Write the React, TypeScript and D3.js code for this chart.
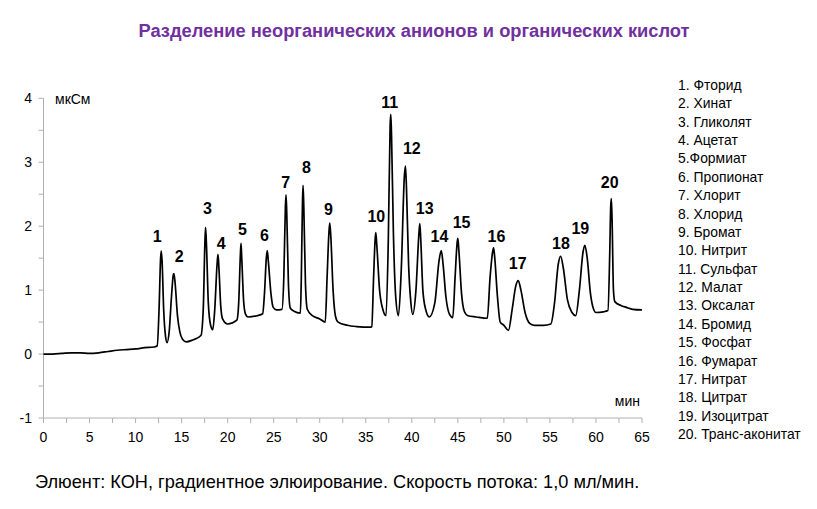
import { useMemo } from "react";
import * as d3 from "d3";

// chromatogram trace: [time (min), signal (мкСм)]
const trace: [number, number][] = [
  [0, 0], [1, 0.0], [2, 0.01], [3, 0.02], [4, 0.02], [5, 0.01], [6, 0.02], [7, 0.04],
  [8, 0.06], [9, 0.07], [10, 0.08], [11, 0.1], [12, 0.11], [12.35, 0.13],
  // 1
  [12.55, 0.7], [12.72, 1.5], [12.79, 1.61], [12.88, 1.45], [13.05, 0.7], [13.25, 0.28], [13.42, 0.18],
  // 2
  [13.65, 0.35], [13.9, 0.9], [14.1, 1.24], [14.17, 1.26], [14.3, 1.1], [14.55, 0.6], [14.8, 0.35],
  [15.1, 0.23], [15.5, 0.19], [16.2, 0.22], [17.1, 0.29],
  // 3
  [17.35, 0.7], [17.52, 1.7], [17.6, 1.98], [17.7, 1.7], [17.9, 0.8], [18.15, 0.45], [18.38, 0.38],
  // 4
  [18.6, 0.7], [18.85, 1.4], [18.95, 1.56], [19.05, 1.35], [19.25, 0.75], [19.45, 0.55], [20.0, 0.47], [21.0, 0.53],
  // 5
  [21.2, 0.8], [21.38, 1.55], [21.45, 1.73], [21.53, 1.5], [21.75, 0.8], [21.95, 0.62], [22.2, 0.58],
  [23.2, 0.6], [23.8, 0.63],
  // 6
  [24.0, 0.95], [24.2, 1.5], [24.3, 1.62], [24.42, 1.45], [24.7, 0.95], [24.95, 0.73], [25.3, 0.69], [25.9, 0.7],
  // 7
  [26.1, 1.2], [26.27, 2.3], [26.34, 2.49], [26.42, 2.2], [26.6, 1.1], [26.8, 0.72], [27.2, 0.67], [27.9, 0.64],
  // 8
  [28.0, 1.2], [28.13, 2.4], [28.19, 2.64], [28.27, 2.3], [28.45, 1.1], [28.65, 0.7], [29.2, 0.6],
  [30.0, 0.55], [30.6, 0.5],
  // 9
  [30.8, 1.2], [31.0, 1.9], [31.09, 2.05], [31.2, 1.85], [31.45, 1.0], [31.7, 0.6], [32.0, 0.5],
  [33, 0.45], [34, 0.43], [35.5, 0.42], [35.65, 0.43],
  // 10
  [35.85, 1.2], [36.02, 1.8], [36.09, 1.9], [36.2, 1.7], [36.5, 1.0], [36.85, 0.7], [37.2, 0.6],
  // 11
  [37.45, 1.8], [37.65, 3.6], [37.72, 3.75], [37.8, 3.4], [38.0, 1.9], [38.25, 0.9], [38.55, 0.6],
  // 12
  [38.85, 1.3], [39.2, 2.8], [39.31, 2.94], [39.42, 2.6], [39.65, 1.4], [39.9, 0.8], [40.1, 0.62],
  // 13
  [40.45, 1.0], [40.78, 1.9], [40.87, 2.04], [40.97, 1.8], [41.2, 1.0], [41.5, 0.7], [41.9, 0.58],
  // 14
  [42.5, 0.8], [42.95, 1.45], [43.2, 1.62], [43.4, 1.4], [43.7, 0.9], [44.1, 0.62], [44.45, 0.57],
  // 15
  [44.7, 1.2], [44.93, 1.75], [45.0, 1.81], [45.12, 1.6], [45.4, 0.95], [45.7, 0.67], [46.1, 0.6],
  [47, 0.58], [48.2, 0.56],
  // 16
  [48.5, 1.2], [48.78, 1.6], [48.88, 1.66], [48.98, 1.55], [49.3, 0.9], [49.6, 0.5], [50.0, 0.45], [50.5, 0.37],
  // 17
  [50.9, 0.7], [51.3, 1.07], [51.56, 1.15], [51.85, 1.0], [52.3, 0.65], [52.8, 0.48], [53.3, 0.45],
  [54.3, 0.45], [55.1, 0.47],
  // 18
  [55.5, 0.8], [55.9, 1.4], [56.16, 1.53], [56.45, 1.35], [56.9, 0.85], [57.4, 0.65], [57.8, 0.6],
  // 19
  [58.2, 1.0], [58.6, 1.6], [58.8, 1.7], [59.05, 1.5], [59.4, 0.95], [59.7, 0.72], [60.0, 0.65],
  [60.8, 0.66], [61.3, 0.68],
  // 20
  [61.5, 1.6], [61.6, 2.3], [61.67, 2.43], [61.75, 2.1], [61.9, 1.0], [62.05, 0.82], [62.7, 0.76],
  [63.3, 0.73], [64.0, 0.7], [65, 0.69],
];

// peak number labels (time, signal where the number sits)
const peakNums = ["1", "2", "3", "4", "5", "6", "7", "8", "9", "10", "11", "12", "13", "14", "15", "16", "17", "18", "19", "20"];
const peakLabelT = [12.35, 14.75, 17.8, 19.3, 21.6, 24.0, 26.3, 28.55, 30.95, 36.15, 37.6, 40.0, 41.4, 43.0, 45.4, 49.2, 51.5, 56.2, 58.3, 61.5];
const peakLabelV = [1.84, 1.53, 2.27, 1.73, 1.95, 1.85, 2.69, 2.91, 2.26, 2.15, 3.94, 3.21, 2.27, 1.84, 2.06, 1.84, 1.42, 1.73, 1.96, 2.69];

const legendItems = [
  "1. Фторид", "2. Хинат", "3. Гликолят", "4. Ацетат", "5.Формиат", "6. Пропионат",
  "7. Хлорит", "8. Хлорид", "9. Бромат", "10. Нитрит", "11. Сульфат", "12. Малат",
  "13. Оксалат", "14. Бромид", "15. Фосфат", "16. Фумарат", "17. Нитрат", "18. Цитрат",
  "19. Изоцитрат", "20. Транс-аконитат",
];

const xTicks = d3.range(0, 66, 5);
const xMinor = d3.range(0, 65.1, 2.5);
const yTicks = [-1, 0, 1, 2, 3, 4];
const yMinor = d3.range(-1, 4.01, 0.5);

const W = 817;
const H = 509;
const FONT = "'Liberation Sans', Arial, sans-serif";

export default function App() {
  const x = useMemo(() => d3.scaleLinear().domain([0, 65]).range([43.5, 642]), []);
  const y = useMemo(() => d3.scaleLinear().domain([-1, 4]).range([418, 98.3]), []);

  const path = useMemo(
    () =>
      d3
        .line<[number, number]>()
        .x((d) => x(d[0]))
        .y((d) => y(d[1]))
        .curve(d3.curveMonotoneX)(trace) ?? "",
    [x, y]
  );

  const axisColor = "#b0b0b0";

  return (
    <div style={{ position: "absolute", left: 0, top: 0 }}>
      <svg width={W} height={H} style={{ display: "block", background: "#fff" }} fontFamily={FONT}>
        {/* title */}
        <text x={414} y={30} textAnchor="middle" dominantBaseline="central" fontSize={18.3} fontWeight="bold" fill="#7030a0">
          Разделение неорганических анионов и органических кислот
        </text>

        {/* y axis */}
        <line x1={x(0)} x2={x(0)} y1={y(4)} y2={y(-1)} stroke={axisColor} strokeWidth={1} />
        {yMinor.map((v) => (
          <line key={"ym" + v} x1={x(0) - 5} x2={x(0)} y1={y(v)} y2={y(v)} stroke={axisColor} strokeWidth={1} />
        ))}
        {yTicks.map((v) => (
          <text key={"yt" + v} x={32} y={y(v)} textAnchor="end" dominantBaseline="central" fontSize={14} fill="#000">
            {v}
          </text>
        ))}
        <text x={55} y={99} dominantBaseline="central" fontSize={14} fill="#000">
          мкСм
        </text>

        {/* x axis */}
        <line x1={x(0)} x2={x(65)} y1={y(-1)} y2={y(-1)} stroke={axisColor} strokeWidth={1} />
        {xMinor.map((t) => (
          <line key={"xm" + t} x1={x(t)} x2={x(t)} y1={y(-1)} y2={y(-1) + 5} stroke={axisColor} strokeWidth={1} />
        ))}
        {xTicks.map((t) => (
          <text key={"xt" + t} x={x(t)} y={437} textAnchor="middle" dominantBaseline="central" fontSize={14} fill="#000">
            {t}
          </text>
        ))}
        <text x={640} y={401} textAnchor="end" dominantBaseline="central" fontSize={14} fill="#000">
          мин
        </text>

        {/* trace */}
        <path d={path} fill="none" stroke="#000" strokeWidth={1.7} strokeLinejoin="round" />

        {/* peak numbers */}
        {peakNums.map((n, i) => (
          <text
            key={"p" + n}
            x={x(peakLabelT[i])}
            y={y(peakLabelV[i])}
            textAnchor="middle"
            dominantBaseline="central"
            fontSize={16}
            fontWeight="bold"
            fill="#000"
          >
            {n}
          </text>
        ))}

        {/* legend */}
        {legendItems.map((s, i) => (
          <text key={"l" + i} x={678} y={85 + i * 18.37} dominantBaseline="central" fontSize={13.9} fill="#000">
            {s}
          </text>
        ))}

        {/* footer */}
        <text x={35} y={482} dominantBaseline="central" fontSize={18.2} fill="#000">
          Элюент: КОН, градиентное элюирование. Скорость потока: 1,0 мл/мин.
        </text>
      </svg>
    </div>
  );
}
